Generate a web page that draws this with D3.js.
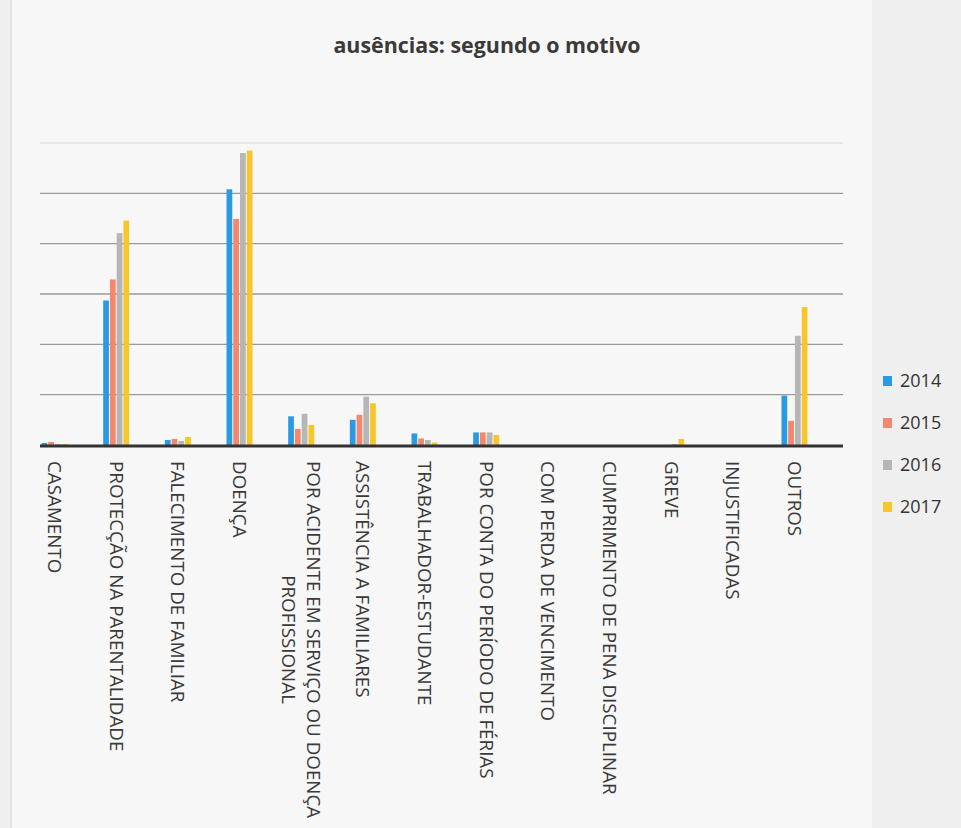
<!DOCTYPE html>
<html>
<head>
<meta charset="utf-8">
<script src="https://cdn.jsdelivr.net/npm/d3@7"></script>
<style>
  html, body { margin: 0; padding: 0; background: #f1f1f1; }
  svg { display: block; }
</style>
</head>
<body>
<svg id="chart" width="961" height="828"></svg>
<script>
// ---- data ----
const title = "ausências: segundo o motivo";
const categories = [
  ["CASAMENTO"],
  ["PROTECÇÃO NA PARENTALIDADE"],
  ["FALECIMENTO DE FAMILIAR"],
  ["DOENÇA"],
  ["POR ACIDENTE EM SERVIÇO OU DOENÇA", "PROFISSIONAL"],
  ["ASSISTÊNCIA A FAMILIARES"],
  ["TRABALHADOR-ESTUDANTE"],
  ["POR CONTA DO PERÍODO DE FÉRIAS"],
  ["COM PERDA DE VENCIMENTO"],
  ["CUMPRIMENTO DE PENA DISCIPLINAR"],
  ["GREVE"],
  ["INJUSTIFICADAS"],
  ["OUTROS"]
];
const years = ["2014", "2015", "2016", "2017"];
const values2014 = [4, 287, 10, 508, 57, 50, 23, 25, 0, 0, 0, 0, 98];
const values2015 = [6, 329, 12, 449, 32, 60, 13, 25, 0, 0, 0, 0, 48];
const values2016 = [2, 421, 8, 580, 62, 96, 10, 25, 0, 0, 2, 0, 217];
const values2017 = [2, 446, 16, 585, 40, 83, 5, 20, 0, 0, 12, 0, 274];
const yTicks = [0, 100, 200, 300, 400, 500, 600];
const colors = ["#2a9be2", "#f5876d", "#b6b6b6", "#f8c62c"];

const series = [values2014, values2015, values2016, values2017];

// ---- layout ----
const svg = d3.select("#chart");
const W = 961, H = 828;
const plotLeft = 40, plotRight = 843;
const yBase = 445, yTop = 143;

svg.append("rect").attr("x", 0).attr("y", 0).attr("width", W).attr("height", H).attr("fill", "#efefef");
svg.append("rect").attr("x", 12).attr("y", 0).attr("width", 860).attr("height", H).attr("fill", "#f7f7f7");
svg.append("line").attr("x1", 11).attr("x2", 11).attr("y1", 0).attr("y2", H)
  .attr("stroke", "#dcdcdc").attr("stroke-width", 1.5);

const catIdx = d3.range(categories.length);
const x = d3.scaleBand().domain(catIdx).range([23.7, 825.3]).padding(0);
const xInner = d3.scaleBand().domain(years).range([-13, 13]).paddingInner(0.15);
const y = d3.scaleLinear().domain([0, 600]).range([yBase, yTop]);

// gridlines
const grid = svg.append("g");
grid.selectAll("line").data(yTicks.filter(t => t > 0)).join("line")
  .attr("x1", plotLeft).attr("x2", plotRight)
  .attr("y1", d => y(d)).attr("y2", d => y(d))
  .attr("stroke", d => d === 600 ? "#e2e2e2" : "#9a9a9a")
  .attr("stroke-width", 1.3);

// bars
const groups = svg.append("g").selectAll("g").data(catIdx).join("g")
  .attr("transform", i => `translate(${x(i) + x.bandwidth() / 2},0)`);
groups.selectAll("rect").data(i => years.map((yr, k) => ({ yr, k, v: series[k][i] }))).join("rect")
  .attr("x", d => xInner(d.yr))
  .attr("width", xInner.bandwidth())
  .attr("y", d => y(d.v))
  .attr("height", d => yBase - y(d.v))
  .attr("fill", d => colors[d.k]);

// baseline axis
const xAxis = d3.axisBottom(x).tickSize(0).tickFormat("");
const axG = svg.append("g").attr("transform", `translate(0,${yBase})`).call(xAxis);
axG.select(".domain").remove();
svg.append("line").attr("x1", plotLeft).attr("x2", plotRight)
  .attr("y1", yBase + 1).attr("y2", yBase + 1)
  .attr("stroke", "#333").attr("stroke-width", 3);

// category labels (rotated, reading top to bottom)
const labelFont = "'Open Sans', 'Noto Sans', sans-serif";
const labelSize = 18.8;
const labelTop = 461;
const lab = svg.append("g");
catIdx.forEach(i => {
  const lines = categories[i];
  const cx = x(i) + x.bandwidth() / 2;
  const lineH = 25;
  const n = lines.length;
  const g = lab.append("g")
    .attr("transform", `translate(${cx},${labelTop}) rotate(90)`);
  const first = g.append("text")
    .attr("x", 0)
    .attr("y", -((n - 1) * lineH) / 2)
    .attr("dy", "0.35em")
    .attr("font-family", labelFont).attr("font-size", labelSize)
    .attr("fill", "#3a3a3a").text(lines[0]);
  const len = first.node().getComputedTextLength();
  for (let j = 1; j < n; j++) {
    g.append("text")
      .attr("x", len / 2)
      .attr("y", -((n - 1) * lineH) / 2 + j * lineH)
      .attr("dy", "0.35em")
      .attr("text-anchor", "middle")
      .attr("font-family", labelFont).attr("font-size", labelSize)
      .attr("fill", "#3a3a3a").text(lines[j]);
  }
});

// title
svg.append("text").attr("x", 487).attr("y", 53).attr("text-anchor", "middle")
  .attr("font-family", labelFont).attr("font-weight", "bold").attr("font-size", 21.4)
  .attr("fill", "#3a3a3a").text(title);

// legend
const leg = svg.append("g").attr("transform", "translate(883,381)");
const li = leg.selectAll("g").data(years).join("g")
  .attr("transform", (d, i) => `translate(0,${i * 42})`);
li.append("rect").attr("x", 0).attr("y", -5).attr("width", 9).attr("height", 10)
  .attr("fill", (d, i) => colors[i]);
li.append("text").attr("x", 17).attr("y", 0).attr("dy", "0.35em")
  .attr("font-family", labelFont).attr("font-size", 18)
  .attr("fill", "#333").text(d => d);
</script>
</body>
</html>
